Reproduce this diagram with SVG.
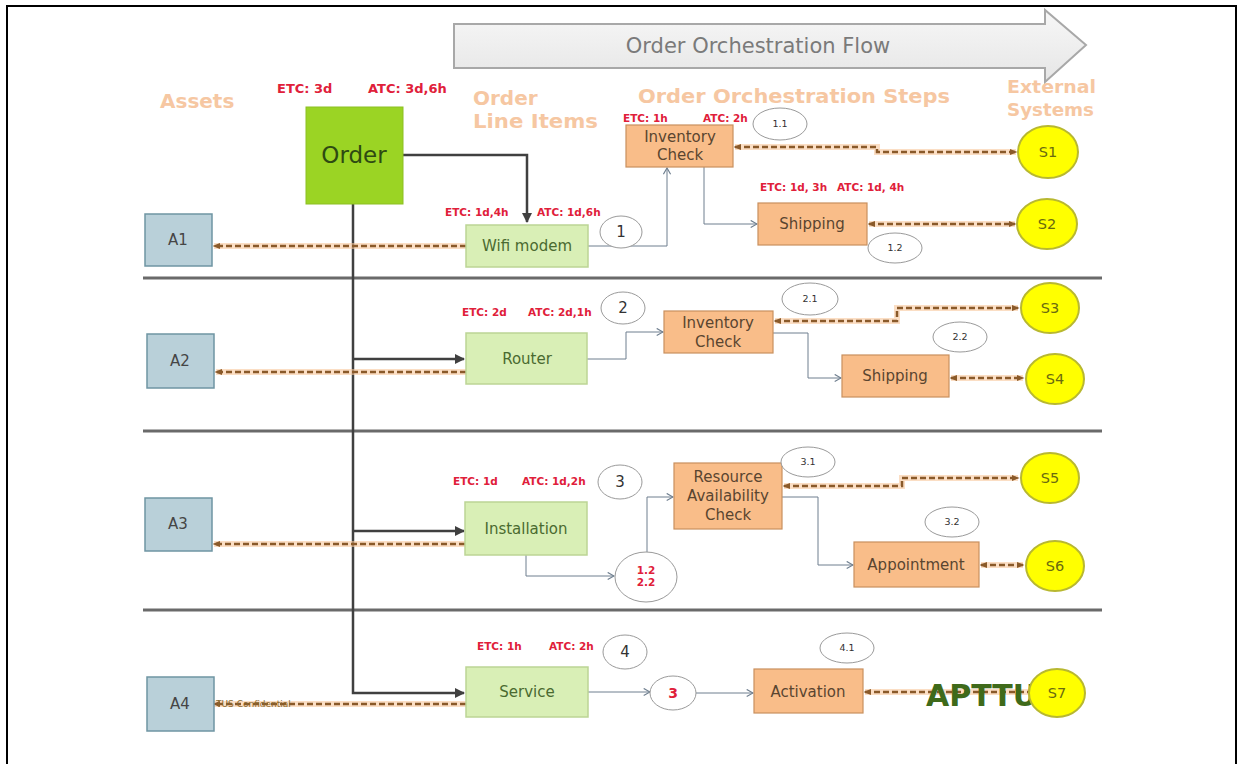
<svg xmlns="http://www.w3.org/2000/svg" width="1241" height="764" viewBox="0 0 1241 764">
  <defs>
    <linearGradient id="flowFill" x1="0" y1="0" x2="0" y2="1">
      <stop offset="0" stop-color="#f7f7f7"/>
      <stop offset="1" stop-color="#e6e6e6"/>
    </linearGradient>
    <marker id="mDark" viewBox="0 0 10 10" refX="9" refY="5" markerWidth="4" markerHeight="4" orient="auto" markerUnits="strokeWidth">
      <path d="M0,0 L10,5 L0,10 z" fill="#404040"/>
    </marker>
    <marker id="mBrown" viewBox="0 0 10 10" refX="8" refY="5" markerWidth="3" markerHeight="3" orient="auto-start-reverse" markerUnits="strokeWidth">
      <path d="M0,1 L10,5 L0,9 z" fill="#8a5a2a"/>
    </marker>
    <marker id="mGray" viewBox="0 0 10 10" refX="9" refY="5" markerWidth="9" markerHeight="9" orient="auto" markerUnits="userSpaceOnUse">
      <path d="M2,1 L9,5 L2,9" fill="none" stroke="#6f7f8f" stroke-width="1.3"/>
    </marker>
  </defs>
  <style>
    .hdr { font-family: "DejaVu Sans", Verdana, sans-serif; font-weight: bold; font-size: 20px; fill: #f6c7a2; }
    .hdr.sm { font-size: 17px; }
    .tm { font-family: "DejaVu Sans", Verdana, sans-serif; font-weight: bold; font-size: 10.5px; fill: #e0203a; }
    .tm.big { font-size: 13px; }
    .asset rect { fill: #b9d0d9; stroke: #6f95a3; stroke-width: 1.5; }
    .asset text { font-family: "DejaVu Sans", Verdana, sans-serif; font-size: 15px; fill: #454545; text-anchor: middle; }
    .item rect { fill: #d9efb6; stroke: #bcd595; stroke-width: 1.5; }
    .item text { font-family: "DejaVu Sans", Verdana, sans-serif; font-size: 15px; fill: #4a6a30; text-anchor: middle; }
    .step rect { fill: #f9bd89; stroke: #c98f5e; stroke-width: 1.2; }
    .step text { font-family: "DejaVu Sans", Verdana, sans-serif; font-size: 15px; fill: #5a4530; text-anchor: middle; }
    .ext ellipse { fill: #ffff00; stroke: #b8b830; stroke-width: 2; }
    .ext text { font-family: "DejaVu Sans", Verdana, sans-serif; font-size: 14.5px; fill: #6a6a10; text-anchor: middle; }
    .num ellipse { fill: #ffffff; stroke: #9a9a9a; stroke-width: 1; }
    .num text { font-family: "DejaVu Sans", Verdana, sans-serif; font-size: 9.5px; fill: #333; text-anchor: middle; }
    .num text.big { font-size: 15px; }
    .num text.red { fill: #e0203a; font-weight: bold; font-size: 10.5px; }
    .num text.red.lg { font-size: 14px; }
    .lane { stroke: #6a6a6a; stroke-width: 3; fill: none; }
    .thick { stroke: #404040; stroke-width: 2.5; fill: none; }
    .glow { stroke: #f8c89c; stroke-width: 6; fill: none; opacity: 0.6; }
    .dash { stroke: #8a5a2a; stroke-width: 2.5; stroke-dasharray: 6 3; fill: none; }
    .thin { stroke: #6f7f8f; stroke-width: 1; fill: none; }
  </style>

  <rect x="0" y="0" width="1241" height="764" fill="#ffffff"/>
  <!-- page frame -->
  <path d="M7,770 V6 H1236 V770" fill="none" stroke="#000" stroke-width="2"/>

  <!-- flow banner -->
  <g id="flow-banner">
    <polygon points="454,24 1045,24 1045,10 1086,45 1045,82 1045,68 454,68" fill="url(#flowFill)" stroke="#a8a8a8" stroke-width="2"/>
    <text x="758" y="53" font-family="'DejaVu Sans', Verdana, sans-serif" font-size="21" fill="#7a7a7a" text-anchor="middle">Order Orchestration Flow</text>
  </g>

  <!-- column headings -->
  <g id="headings">
    <text class="hdr" x="160" y="108">Assets</text>
    <text class="hdr" x="473" y="105">Order</text>
    <text class="hdr" x="473" y="128" textLength="125" lengthAdjust="spacingAndGlyphs">Line Items</text>
    <text class="hdr" x="638" y="103" textLength="312" lengthAdjust="spacingAndGlyphs">Order Orchestration Steps</text>
    <text class="hdr sm" x="1007" y="93" textLength="89" lengthAdjust="spacingAndGlyphs">External</text>
    <text class="hdr sm" x="1007" y="116" textLength="87" lengthAdjust="spacingAndGlyphs">Systems</text>
  </g>

  <!-- lane separators -->
  <g id="lanes">
    <line class="lane" x1="143" y1="278" x2="1102" y2="278"/>
    <line class="lane" x1="143" y1="431" x2="1102" y2="431"/>
    <line class="lane" x1="143" y1="610" x2="1102" y2="610"/>
  </g>

  <!-- timing labels -->
  <g id="timings">
    <text class="tm big" x="277" y="93">ETC: 3d</text>
    <text class="tm big" x="368" y="93">ATC: 3d,6h</text>
    <text class="tm" x="445" y="216">ETC: 1d,4h</text>
    <text class="tm" x="537" y="216">ATC: 1d,6h</text>
    <text class="tm" x="462" y="316">ETC: 2d</text>
    <text class="tm" x="528" y="316">ATC: 2d,1h</text>
    <text class="tm" x="453" y="485">ETC: 1d</text>
    <text class="tm" x="522" y="485">ATC: 1d,2h</text>
    <text class="tm" x="477" y="650">ETC: 1h</text>
    <text class="tm" x="549" y="650">ATC: 2h</text>
    <text class="tm" x="623" y="122">ETC: 1h</text>
    <text class="tm" x="703" y="122">ATC: 2h</text>
    <text class="tm" x="760" y="191">ETC: 1d, 3h</text>
    <text class="tm" x="837" y="191">ATC: 1d, 4h</text>
  </g>

  <!-- connectors -->
  <g id="connectors">
    <!-- order to line items -->
    <path class="thick" d="M403,155 H527 V222" marker-end="url(#mDark)"/>
    <path class="thick" d="M353,204 V693 H464" marker-end="url(#mDark)"/>
    <path class="thick" d="M353,359 H464" marker-end="url(#mDark)"/>
    <path class="thick" d="M353,531 H464" marker-end="url(#mDark)"/>

    <!-- line items to assets -->
    <path class="glow" d="M466,246 H214"/>
    <path class="dash" d="M466,246 H214" marker-end="url(#mBrown)"/>
    <path class="glow" d="M466,372 H216"/>
    <path class="dash" d="M466,372 H216" marker-end="url(#mBrown)"/>
    <path class="glow" d="M465,544 H214"/>
    <path class="dash" d="M465,544 H214" marker-end="url(#mBrown)"/>
    <path class="glow" d="M466,704 H214"/>
    <path class="dash" d="M466,704 H214" marker-end="url(#mBrown)"/>

    <!-- steps to external systems -->
    <path class="glow" d="M735,147 H877 V152 H1016"/>
    <path class="dash" d="M735,147 H877 V152 H1016" marker-start="url(#mBrown)" marker-end="url(#mBrown)"/>
    <path class="glow" d="M869,224 H1015"/>
    <path class="dash" d="M869,224 H1015" marker-start="url(#mBrown)" marker-end="url(#mBrown)"/>
    <path class="glow" d="M775,321 H897 V308 H1018"/>
    <path class="dash" d="M775,321 H897 V308 H1018" marker-start="url(#mBrown)" marker-end="url(#mBrown)"/>
    <path class="glow" d="M951,378 H1023"/>
    <path class="dash" d="M951,378 H1023" marker-start="url(#mBrown)" marker-end="url(#mBrown)"/>
    <path class="glow" d="M784,486 H902 V478 H1018"/>
    <path class="dash" d="M784,486 H902 V478 H1018" marker-start="url(#mBrown)" marker-end="url(#mBrown)"/>
    <path class="glow" d="M981,565 H1023"/>
    <path class="dash" d="M981,565 H1023" marker-start="url(#mBrown)" marker-end="url(#mBrown)"/>
    <path class="glow" d="M865,692 H1030"/>
    <path class="dash" d="M865,692 H1030" marker-start="url(#mBrown)"/>

    <!-- orchestration flow -->
    <path class="thin" d="M588,246 H667 V168" marker-end="url(#mGray)"/>
    <path class="thin" d="M704,167 V224 H757" marker-end="url(#mGray)"/>
    <path class="thin" d="M587,359 H626 V332 H663" marker-end="url(#mGray)"/>
    <path class="thin" d="M773,333 H808 V378 H841" marker-end="url(#mGray)"/>
    <path class="thin" d="M526,555 V576 H614" marker-end="url(#mGray)"/>
    <path class="thin" d="M647,552 V497 H673" marker-end="url(#mGray)"/>
    <path class="thin" d="M782,497 H818 V565 H853" marker-end="url(#mGray)"/>
    <path class="thin" d="M588,692 H650" marker-end="url(#mGray)"/>
    <path class="thin" d="M696,693 H753" marker-end="url(#mGray)"/>
  </g>

  <text x="216" y="707" font-family="'DejaVu Sans', Verdana, sans-serif" font-size="9" fill="#8a6a30">TUS Confidential</text>

  <!-- order -->
  <g id="order">
    <rect x="306" y="107" width="97" height="97" fill="#9bd424" stroke="#8cbf22" stroke-width="1"/>
    <text x="354" y="163" font-family="'DejaVu Sans', Verdana, sans-serif" font-size="23" fill="#2e4a12" text-anchor="middle">Order</text>
  </g>

  <!-- assets -->
  <g id="asset-a1" class="asset"><rect x="145" y="214" width="67" height="52"/><text x="178" y="245">A1</text></g>
  <g id="asset-a2" class="asset"><rect x="147" y="334" width="67" height="54"/><text x="180" y="366">A2</text></g>
  <g id="asset-a3" class="asset"><rect x="145" y="498" width="67" height="53"/><text x="178" y="529">A3</text></g>
  <g id="asset-a4" class="asset"><rect x="147" y="677" width="67" height="54"/><text x="180" y="709">A4</text></g>

  <!-- line items -->
  <g id="item-wifi" class="item"><rect x="466" y="225" width="122" height="42"/><text x="527" y="251">Wifi modem</text></g>
  <g id="item-router" class="item"><rect x="466" y="333" width="121" height="51"/><text x="527" y="364">Router</text></g>
  <g id="item-installation" class="item"><rect x="465" y="502" width="122" height="53"/><text x="526" y="534">Installation</text></g>
  <g id="item-service" class="item"><rect x="466" y="667" width="122" height="50"/><text x="527" y="697">Service</text></g>

  <!-- orchestration steps -->
  <g id="step-inv1" class="step"><rect x="626" y="125" width="107" height="42"/><text x="680" y="142">Inventory</text><text x="680" y="160">Check</text></g>
  <g id="step-ship1" class="step"><rect x="758" y="203" width="109" height="42"/><text x="812" y="229">Shipping</text></g>
  <g id="step-inv2" class="step"><rect x="664" y="311" width="109" height="42"/><text x="718" y="328">Inventory</text><text x="718" y="347">Check</text></g>
  <g id="step-ship2" class="step"><rect x="842" y="355" width="107" height="42"/><text x="895" y="381">Shipping</text></g>
  <g id="step-resource" class="step"><rect x="674" y="463" width="108" height="66"/><text x="728" y="482">Resource</text><text x="728" y="501">Availability</text><text x="728" y="520">Check</text></g>
  <g id="step-appointment" class="step"><rect x="854" y="542" width="125" height="45"/><text x="916" y="570">Appointment</text></g>
  <g id="step-activation" class="step"><rect x="754" y="669" width="109" height="44"/><text x="808" y="697">Activation</text></g>

  <!-- sequence numbers -->
  <g id="num-1" class="num"><ellipse cx="621" cy="232" rx="21" ry="16"/><text class="big" x="621" y="237">1</text></g>
  <g id="num-1-1" class="num"><ellipse cx="780" cy="124" rx="27" ry="16"/><text x="780" y="127">1.1</text></g>
  <g id="num-1-2" class="num"><ellipse cx="895" cy="248" rx="27" ry="15"/><text x="895" y="251">1.2</text></g>
  <g id="num-2" class="num"><ellipse cx="623" cy="308" rx="22" ry="16"/><text class="big" x="623" y="313">2</text></g>
  <g id="num-2-1" class="num"><ellipse cx="810" cy="299" rx="28" ry="16"/><text x="810" y="302">2.1</text></g>
  <g id="num-2-2" class="num"><ellipse cx="960" cy="337" rx="27" ry="15"/><text x="960" y="340">2.2</text></g>
  <g id="num-3" class="num"><ellipse cx="620" cy="482" rx="22" ry="17"/><text class="big" x="620" y="487">3</text></g>
  <g id="num-3-1" class="num"><ellipse cx="808" cy="462" rx="27" ry="15"/><text x="808" y="465">3.1</text></g>
  <g id="num-3-2" class="num"><ellipse cx="952" cy="522" rx="27" ry="15"/><text x="952" y="525">3.2</text></g>
  <g id="num-4" class="num"><ellipse cx="625" cy="652" rx="22" ry="17"/><text class="big" x="625" y="657">4</text></g>
  <g id="num-4-1" class="num"><ellipse cx="847" cy="648" rx="27" ry="15"/><text x="847" y="651">4.1</text></g>
  <g id="num-join" class="num"><ellipse cx="646" cy="577" rx="31" ry="25"/><text class="red" x="646" y="574">1.2</text><text class="red" x="646" y="586">2.2</text></g>
  <g id="num-dep" class="num"><ellipse cx="673" cy="693" rx="23" ry="17"/><text class="red lg" x="673" y="698">3</text></g>

  <!-- watermark -->
  <text x="926" y="706" font-family="'DejaVu Sans', Verdana, sans-serif" font-weight="bold" font-size="30" fill="#3f6a1a">APTTU</text>

  <!-- external systems -->
  <g id="ext-s1" class="ext"><ellipse cx="1048" cy="152" rx="30" ry="26"/><text x="1048" y="157">S1</text></g>
  <g id="ext-s2" class="ext"><ellipse cx="1047" cy="224" rx="30" ry="25"/><text x="1047" y="229">S2</text></g>
  <g id="ext-s3" class="ext"><ellipse cx="1050" cy="308" rx="29" ry="25"/><text x="1050" y="313">S3</text></g>
  <g id="ext-s4" class="ext"><ellipse cx="1055" cy="379" rx="29" ry="25"/><text x="1055" y="384">S4</text></g>
  <g id="ext-s5" class="ext"><ellipse cx="1050" cy="478" rx="29" ry="25"/><text x="1050" y="483">S5</text></g>
  <g id="ext-s6" class="ext"><ellipse cx="1055" cy="566" rx="29" ry="25"/><text x="1055" y="571">S6</text></g>
  <g id="ext-s7" class="ext"><ellipse cx="1057" cy="693" rx="28" ry="24"/><text x="1057" y="698">S7</text></g>
</svg>
